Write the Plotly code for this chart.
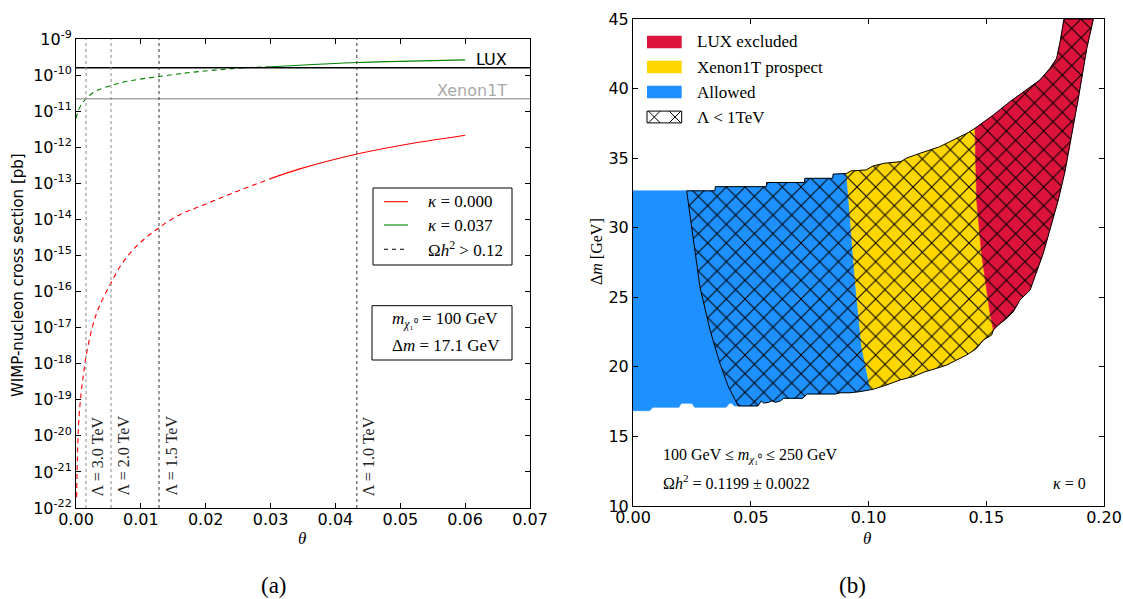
import plotly.graph_objects as go

W, H = 1123, 599

# ---------------- Panel (a) data ----------------
theta_ticks_a = [0.00, 0.01, 0.02, 0.03, 0.04, 0.05, 0.06, 0.07]
sigma_exponents = list(range(-22, -8))

red_theta = [0.0001, 0.0002, 0.00046, 0.0008, 0.00115, 0.00154, 0.0025, 0.0035, 0.0054,
             0.007, 0.0088, 0.0105, 0.0128, 0.016, 0.0191, 0.0243, 0.03, 0.0345,
             0.0435, 0.05, 0.06]
red_log_sigma = [-21.7, -20.7, -19.5, -18.8, -18.3, -17.8, -17.0, -16.45, -15.76,
                 -15.25, -14.84, -14.55, -14.23, -13.87, -13.64, -13.26, -12.87, -12.60,
                 -12.18, -11.95, -11.67]

green_theta = [0.0, 0.0004, 0.0010, 0.00154, 0.003, 0.0054, 0.008, 0.0128, 0.0191,
               0.0268, 0.03, 0.0435, 0.05, 0.06]
green_log_sigma = [-11.2, -10.96, -10.78, -10.65, -10.45, -10.29, -10.17, -10.04, -9.90,
                   -9.79, -9.77, -9.65, -9.62, -9.58]

omega_cut_theta = 0.03   # left of this: Omega h^2 > 0.12 (dashed)

lux_limit = 1.6e-10
xenon_limit = 2.2e-11

lambda_theta = [0.00154, 0.0054, 0.0128, 0.0433]
lambda_values = ["3.0", "2.0", "1.5", "1.0"]
lambda_colors = ["#8a8a8a", "#8a8a8a", "#333333", "#333333"]

# ---------------- Panel (b) data ----------------
upper_theta = [0.0, 0.0348, 0.0350, 0.0566, 0.0568, 0.0728, 0.0730, 0.0848, 0.0850,
               0.0907, 0.0925, 0.0990, 0.1018, 0.1067, 0.1138, 0.1160, 0.1210, 0.1260,
               0.1302, 0.1345, 0.1387, 0.1423, 0.1452, 0.1502, 0.1530, 0.1601, 0.1672,
               0.1728, 0.1771, 0.1799, 0.1813, 0.1827, 0.1830]
upper_dm = [32.65, 32.65, 32.95, 32.95, 33.25, 33.25, 33.55, 33.55, 33.85,
            33.9, 34.08, 34.15, 34.43, 34.63, 34.75, 34.99, 35.3, 35.59,
            35.82, 36.18, 36.54, 36.83, 37.14, 37.74, 38.1, 39.06, 39.9,
            40.62, 41.46, 42.18, 43.3, 44.93, 45.0]

lower_theta = [0.0, 0.0070, 0.0085, 0.0195, 0.0205, 0.0250, 0.0262, 0.0395, 0.0410,
               0.0420, 0.0430, 0.0530, 0.0545, 0.0555, 0.0575, 0.0590, 0.0605, 0.0625,
               0.0640, 0.0720, 0.0740, 0.0860, 0.0880, 0.0921, 0.0964, 0.1020, 0.1077,
               0.1134, 0.1190, 0.1240, 0.1290, 0.1332, 0.1374, 0.1417, 0.1459, 0.1488,
               0.1523, 0.1530, 0.1551, 0.1587, 0.1615, 0.1643, 0.1686, 0.1742, 0.1806,
               0.1834, 0.1856, 0.1891, 0.1927, 0.1955]
lower_dm = [16.85, 16.85, 17.09, 17.09, 17.38, 17.38, 17.09, 17.09, 17.38,
            17.38, 17.19, 17.19, 17.55, 17.40, 17.45, 17.55, 17.45, 17.55,
            17.74, 17.74, 18.05, 18.05, 18.14, 18.14, 18.22, 18.39, 18.70,
            19.06, 19.30, 19.65, 19.90, 20.13, 20.49, 20.85, 21.33, 21.93,
            22.29, 22.65, 23.00, 23.49, 23.97, 24.80, 25.52, 28.16, 32.00,
            34.03, 36.18, 39.30, 42.90, 45.0]

# boundaries, listed from top to bottom
hatch_theta = [0.0228, 0.0284, 0.0327, 0.0369, 0.0405, 0.0447]
hatch_dm = [32.65, 25.76, 22.65, 20.26, 18.57, 17.19]
blue_yellow_theta = [0.0907, 0.0943, 0.0971, 0.1006, 0.1013]
blue_yellow_dm = [33.9, 26.24, 21.45, 18.57, 18.39]
yellow_red_theta = [0.1452, 0.1459, 0.1480, 0.1495, 0.1516, 0.1530]
yellow_red_dm = [37.14, 32.0, 28.16, 26.24, 23.85, 22.65]

region_names = ["LUX excluded", "Xenon1T prospect", "Allowed"]
region_colors = ["#DC143C", "#FFD700", "#1E90FF"]

# ---------------- helpers ----------------
def px(x):
    return x / W


def py(y):
    return 1 - y / H


upper = list(zip(upper_theta, upper_dm))
lower = list(zip(lower_theta, lower_dm))
y_axis_edge = [(upper_theta[0], upper_dm[0]), (lower_theta[0], lower_dm[0])]
right_end = [(upper_theta[-1], upper_dm[-1]), (lower_theta[-1], lower_dm[-1])]
hatch_edge = list(zip(hatch_theta, hatch_dm))
by_edge = list(zip(blue_yellow_theta, blue_yellow_dm))
yr_edge = list(zip(yellow_red_theta, yellow_red_dm))


def region(left, right):
    lt, lb = left[0], left[-1]
    rt, rb = right[0], right[-1]
    pts = [lt]
    pts += [p for p in upper if lt[0] < p[0] < rt[0]]
    pts += right
    pts += [p for p in reversed(lower) if lb[0] < p[0] < rb[0]]
    pts += list(reversed(left))
    return [p[0] for p in pts], [p[1] for p in pts]


def note(x, y, text, size=16, family="Liberation Serif", color="black",
         xanchor="center", yanchor="middle", angle=0):
    return dict(x=px(x), y=py(y), xref="paper", yref="paper", xanchor=xanchor,
                yanchor=yanchor, showarrow=False, text=text, textangle=angle,
                font=dict(family=family, size=size, color=color))


fig = go.Figure()

# ---------------- Panel (a) traces ----------------
def split(th, lg):
    dashed = [(t, 10 ** v) for t, v in zip(th, lg) if t <= omega_cut_theta]
    solid = [(t, 10 ** v) for t, v in zip(th, lg) if t >= omega_cut_theta]
    return dashed, solid


for th, lg, col in [(red_theta, red_log_sigma, "red"), (green_theta, green_log_sigma, "green")]:
    dashed, solid = split(th, lg)
    fig.add_trace(go.Scatter(x=[p[0] for p in dashed], y=[p[1] for p in dashed], mode="lines",
                             line=dict(color=col, width=1.1, dash="5px,4px", shape="spline"),
                             xaxis="x", yaxis="y", showlegend=False, hoverinfo="skip"))
    fig.add_trace(go.Scatter(x=[p[0] for p in solid], y=[p[1] for p in solid], mode="lines",
                             line=dict(color=col, width=1.1, shape="spline"),
                             xaxis="x", yaxis="y", showlegend=False, hoverinfo="skip"))

fig.add_trace(go.Scatter(x=[theta_ticks_a[0], theta_ticks_a[-1]], y=[lux_limit, lux_limit],
                         mode="lines", line=dict(color="black", width=1.6),
                         xaxis="x", yaxis="y", showlegend=False, hoverinfo="skip"))
fig.add_trace(go.Scatter(x=[theta_ticks_a[0], theta_ticks_a[-1]], y=[xenon_limit, xenon_limit],
                         mode="lines", line=dict(color="#aaaaaa", width=1.6),
                         xaxis="x", yaxis="y", showlegend=False, hoverinfo="skip"))

shapes = []
annotations = []
SERIF = "Liberation Serif"

for th, val, col in zip(lambda_theta, lambda_values, lambda_colors):
    shapes.append(dict(type="line", xref="x", yref="y domain", x0=th, x1=th, y0=0, y1=1,
                       line=dict(color=col, width=1, dash="dot"), layer="above"))
    annotations.append(dict(x=th, xref="x", y=0, yref="y domain", xshift=1, yshift=10,
                            xanchor="left", yanchor="bottom", textangle=-90, showarrow=False,
                            text=f"Λ = {val} TeV",
                            font=dict(family=SERIF, size=16, color="#222222")))

# LUX / Xenon labels
annotations.append(note(509, 59, "LUX", family="DejaVu Sans", xanchor="right"))
annotations.append(note(509, 90.7, "Xenon1T", family="DejaVu Sans", color="#aaaaaa",
                        xanchor="right"))

# legend box 1
shapes.append(dict(type="rect", xref="paper", yref="paper", x0=px(373), x1=px(512),
                   y0=py(265), y1=py(188), line=dict(color="black", width=1), fillcolor="white"))
leg1 = [("red", "solid", "<i>κ</i> = 0.000", 201.7),
        ("green", "solid", "<i>κ</i> = 0.037", 225.0),
        ("black", "4px,4px", "Ω<i>h</i><sup>2</sup> > 0.12", 249.3)]
for col, dash, txt, yy in leg1:
    shapes.append(dict(type="line", xref="paper", yref="paper", x0=px(384), x1=px(408),
                       y0=py(yy), y1=py(yy), line=dict(color=col, width=1.1, dash=dash)))
    annotations.append(note(425.7, yy, txt, size=17, xanchor="left"))

# legend box 2
shapes.append(dict(type="rect", xref="paper", yref="paper", x0=px(372), x1=px(512),
                   y0=py(360), y1=py(305.7), line=dict(color="black", width=1), fillcolor="white"))
annotations.append(note(390, 320, "<i>m</i><sub><i>χ</i>₁⁰</sub> = 100 GeV", size=17,
                        xanchor="left"))
annotations.append(note(390, 345.7, "Δ<i>m</i> = 17.1 GeV", size=17, xanchor="left"))

# ---------------- Panel (b) traces ----------------
edges = [(y_axis_edge, by_edge), (by_edge, yr_edge), (yr_edge, right_end)]
for (le, re), col in zip(edges, region_colors[::-1]):
    xs, ys = region(le, re)
    fig.add_trace(go.Scatter(x=xs, y=ys, mode="lines", fill="toself", fillcolor=col,
                             line=dict(color=col, width=0.6), xaxis="x2", yaxis="y2",
                             showlegend=False, hoverinfo="skip"))

hx, hy = region(hatch_edge, right_end)
fig.add_trace(go.Scatter(x=hx, y=hy, mode="lines", fill="toself",
                         fillcolor="rgba(0,0,0,0)",
                         fillpattern=dict(shape="x", fgcolor="black", bgcolor="rgba(0,0,0,0)",
                                          size=13.2, solidity=0.15, fillmode="replace"),
                         line=dict(color="black", width=1), xaxis="x2", yaxis="y2",
                         showlegend=False, hoverinfo="skip"))

# legend for panel (b)
rows = [42, 67, 92, 117]
for yy, col, name in zip(rows, region_colors, region_names):
    shapes.append(dict(type="rect", xref="paper", yref="paper", x0=px(647), x1=px(681.7),
                       y0=py(yy + 6.2), y1=py(yy - 6.2), line=dict(width=0), fillcolor=col))
    annotations.append(note(695, yy, name, size=17, xanchor="left"))
# hatch patch
hx0, hx1, hy0, hy1 = 647, 681.7, rows[3] - 5.9, rows[3] + 5.9
shapes.append(dict(type="rect", xref="paper", yref="paper", x0=px(hx0), x1=px(hx1),
                   y0=py(hy1), y1=py(hy0), line=dict(color="black", width=1), fillcolor="white"))
half = (hy1 - hy0) / 2
path = ""
for c in [654.3 - 20.7, 654.3, 675.0, 675.0 + 20.7]:
    for sgn in (1, -1):
        xa, ya = c - half, hy0 if sgn == 1 else hy1
        xb, yb = c + half, hy1 if sgn == 1 else hy0
        if xb < hx0 or xa > hx1:
            continue
        if xa < hx0:
            t = (hx0 - xa) / (xb - xa)
            ya = ya + t * (yb - ya)
            xa = hx0
        if xb > hx1:
            t = (hx1 - xa) / (xb - xa)
            yb = ya + t * (yb - ya)
            xb = hx1
        path += f"M{px(xa):.5f},{py(ya):.5f} L{px(xb):.5f},{py(yb):.5f} "
shapes.append(dict(type="path", xref="paper", yref="paper", path=path,
                   line=dict(color="black", width=1)))
annotations.append(note(695, rows[3], "Λ < 1TeV", size=17, xanchor="left"))

# panel (b) texts
annotations.append(note(661, 455, "100 GeV ≤ <i>m</i><sub><i>χ</i>₁⁰</sub> ≤ 250 GeV",
                        xanchor="left"))
annotations.append(note(661, 482, "Ω<i>h</i><sup>2</sup> = 0.1199 ± 0.0022", xanchor="left"))
annotations.append(note(1088, 483, "<i>κ</i> = 0", xanchor="right"))

# axis titles and captions
annotations.append(note(18, 275, "WIMP-nucleon cross section [pb]", size=15,
                        family="DejaVu Sans", angle=-90))
annotations.append(note(596, 252, "Δ<i>m</i> [GeV]", angle=-90))
annotations.append(note(302, 538, "<i>θ</i>", size=17))
annotations.append(note(867, 538, "<i>θ</i>", size=17))
annotations.append(note(274, 585, "(a)", size=23))
annotations.append(note(852, 585, "(b)", size=23))

axis_common = dict(showline=True, linecolor="black", linewidth=1, mirror="ticks",
                   ticks="inside", ticklen=5, tickcolor="black", showgrid=False,
                   zeroline=False, automargin=False,
                   tickfont=dict(family="DejaVu Sans", size=16, color="black"))

fig.update_layout(
    width=W, height=H, margin=dict(l=0, r=0, t=0, b=0, pad=0),
    paper_bgcolor="white", plot_bgcolor="white",
    font=dict(family="DejaVu Sans", color="black"),
    showlegend=False,
    xaxis=dict(domain=[px(76), px(530)], range=[theta_ticks_a[0], theta_ticks_a[-1]],
               tickvals=theta_ticks_a, ticktext=[f"{v:.2f}" for v in theta_ticks_a],
               anchor="y", ticklabelstandoff=-3, **axis_common),
    yaxis=dict(domain=[py(508), py(39)], type="log",
               range=[sigma_exponents[0], sigma_exponents[-1]],
               tickvals=[10.0 ** k for k in sigma_exponents],
               ticktext=[f"10<sup>{k}</sup>" for k in sigma_exponents],
               anchor="x", **axis_common),
    xaxis2=dict(domain=[px(633), px(1104)], range=[0, 0.2], tickvals=[0, 0.05, 0.1, 0.15, 0.2],
                ticktext=["0.00", "0.05", "0.10", "0.15", "0.20"], anchor="y2",
                ticklabelstandoff=-3, **axis_common),
    yaxis2=dict(domain=[py(506), py(19)], range=[10, 45], tickvals=[10, 15, 20, 25, 30, 35, 40, 45],
                anchor="x2", **axis_common),
    shapes=shapes, annotations=annotations,
)

fig.write_html("out.html", post_script="document.body.style.margin='0';",
               config={"displayModeBar": False})
